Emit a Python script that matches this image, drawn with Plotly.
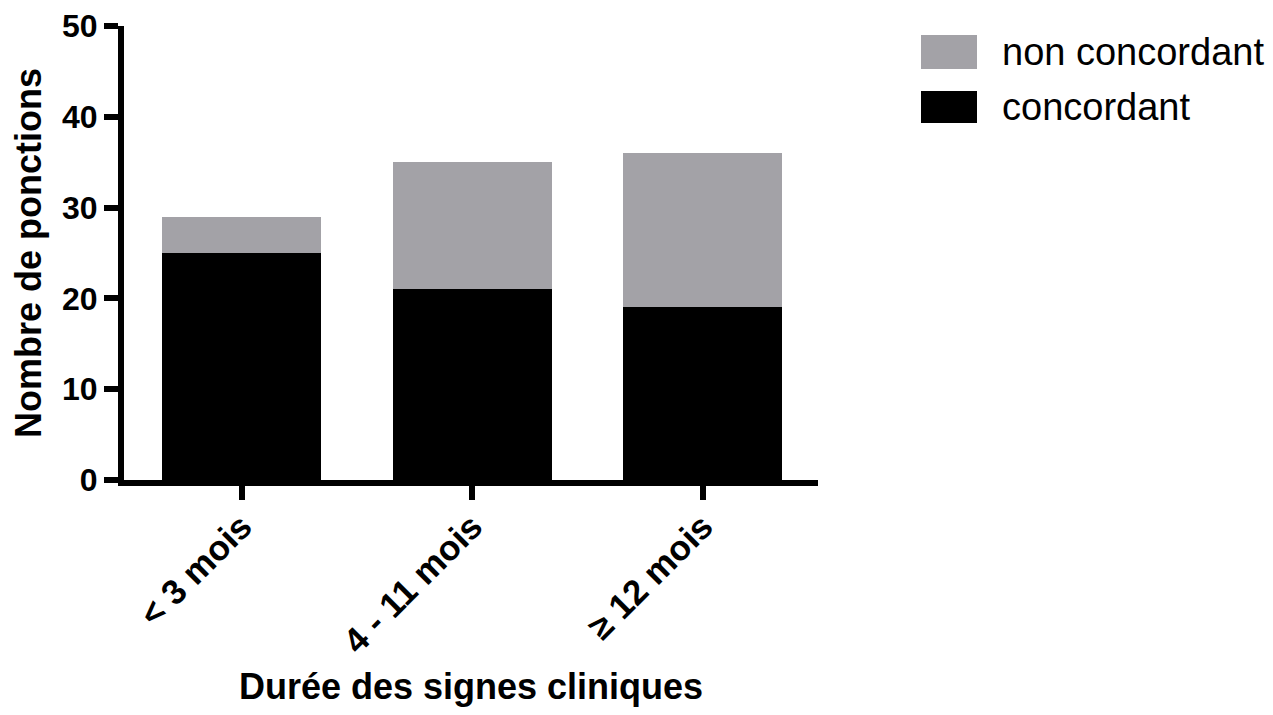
import plotly.graph_objects as go

categories = ["< 3 mois", "4 - 11 mois", "≥ 12 mois"]
concordant = [25, 21, 19]
non_concordant = [4, 14, 17]
series_names = ["non concordant", "concordant"]
y_ticks = [0, 10, 20, 30, 40, 50]

GREY = "#a3a2a7"
BLACK = "#000000"
FONT = "Liberation Sans, Arial, sans-serif"

# page body has an 8px margin: figure is laid out in page coords shifted by 8px
OFF = 8
FW, FH = 1273 - 2 * OFF, 715 - 2 * OFF
L, R, T, B = 124 - OFF, 818 - OFF, 26 - OFF, 480 - OFF
W, H = R - L, B - T
def px(x): return (x - OFF - L) / W
def py(y): return (B - (y - OFF)) / H

fig = go.Figure()
fig.add_trace(go.Bar(x=categories, y=concordant, name=series_names[1],
                     marker=dict(color=BLACK, line=dict(width=0)),
                     width=0.69, showlegend=False))
fig.add_trace(go.Bar(x=categories, y=non_concordant, name=series_names[0],
                     marker=dict(color=GREY, line=dict(width=0)),
                     width=0.69, showlegend=False))

# custom legend (large swatches, as in the reference)
legend_items = [(series_names[0], GREY, 35, 69), (series_names[1], BLACK, 91, 123)]
for name, col, y0, y1 in legend_items:
    fig.add_shape(type="rect", xref="paper", yref="paper",
                  x0=px(921), x1=px(977), y0=py(y1), y1=py(y0),
                  fillcolor=col, line=dict(width=0))
    fig.add_annotation(xref="paper", yref="paper", x=px(1000), y=py((y0 + y1) / 2),
                       text=name, showarrow=False, xanchor="left", yanchor="middle",
                       font=dict(family=FONT, size=38, color="black"))

fig.update_layout(
    width=FW, height=FH,
    barmode="stack", bargap=0.3,
    plot_bgcolor="white", paper_bgcolor="white",
    margin=dict(l=L, r=FW - R, t=T, b=FH - B, autoexpand=False),
    font=dict(family=FONT, color="black"),
)
fig.update_xaxes(
    type="category", range=[-0.51, 2.5], automargin=False,
    showline=True, linewidth=6, linecolor="black",
    ticks="outside", ticklen=14, tickwidth=6, tickcolor="black",
    tickangle=-45, showgrid=False, zeroline=False, ticklabelstandoff=-8,
    tickfont=dict(family=FONT, size=35, weight="bold", color="black"),
    title=dict(text="Durée des signes cliniques", standoff=21,
               font=dict(family=FONT, size=36, weight="bold", color="black")),
)
fig.update_yaxes(
    range=[0, 50], tickvals=y_ticks, automargin=False, ticklabeloverflow="allow",
    showline=True, linewidth=6, linecolor="black",
    ticks="outside", ticklen=14, tickwidth=6, tickcolor="black",
    showgrid=False, zeroline=False,
    tickfont=dict(family=FONT, size=32, weight="bold", color="black"),
    title=dict(text="Nombre de ponctions", standoff=13,
               font=dict(family=FONT, size=36, weight="bold", color="black")),
)

fig.write_html("out.html")
